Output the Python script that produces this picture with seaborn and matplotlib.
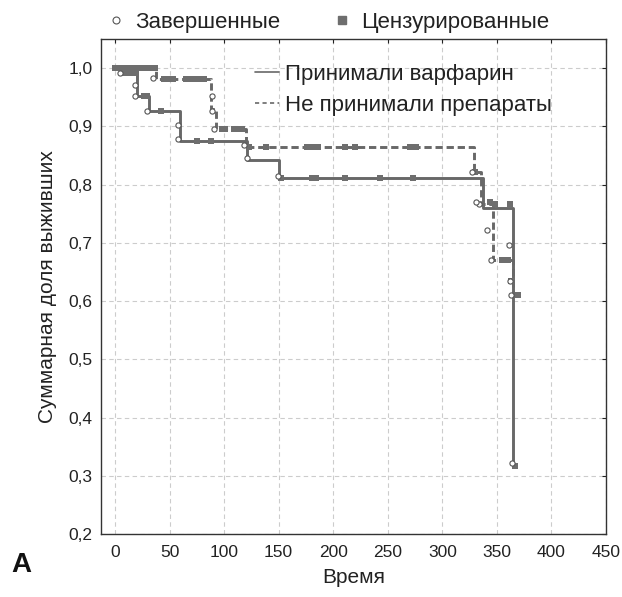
import numpy as np
import pandas as pd
import matplotlib
matplotlib.use("Agg")
import matplotlib.pyplot as plt
from matplotlib.lines import Line2D
import seaborn as sns

# --- Kaplan-Meier steps (time, cumulative survival) ---
warf_t = [0, 6, 20, 31, 60, 121, 150, 337, 365, 367]
warf_s = [1.0, 0.991, 0.952, 0.927, 0.875, 0.843, 0.811, 0.76, 0.32, 0.32]

none_t = [0, 38, 88, 93, 120, 329, 335, 346, 365, 369]
none_s = [1.0, 0.981, 0.93, 0.895, 0.864, 0.822, 0.766, 0.671, 0.61, 0.61]

# completed (events) - open circles
warf_event_t = [5, 18, 18, 29, 58, 58, 121, 149, 334, 361, 362, 363, 364]
warf_event_s = [0.991, 0.971, 0.952, 0.927, 0.902, 0.878, 0.846, 0.815, 0.767, 0.696, 0.634, 0.610, 0.322]
none_event_t = [35, 89, 89, 91, 118, 327, 331, 341, 345]
none_event_s = [0.983, 0.952, 0.927, 0.895, 0.868, 0.822, 0.771, 0.722, 0.671]

# censored - filled squares
warf_cens_t = [0, 2, 4, 8, 10, 12, 14, 16, 19, 27, 29, 42, 75, 88,
               152, 181, 184, 211, 243, 273, 348, 362, 363, 367]
warf_cens_s = [1.0, 1.0, 1.0, 0.991, 0.991, 0.991, 0.991, 0.991, 0.991, 0.952, 0.952, 0.927, 0.875, 0.875,
               0.811, 0.811, 0.811, 0.811, 0.811, 0.811, 0.766, 0.766, 0.634, 0.317]
none_cens_t = [6, 10, 14, 18, 22, 26, 30, 34, 37, 45, 48, 51, 53, 65, 68, 71, 74, 78, 82,
               98, 101, 109, 112, 116, 123, 138, 176, 179, 183, 186, 211, 220, 270, 273, 276,
               330, 344, 355, 360, 369]
none_cens_s = [1.0, 1.0, 1.0, 1.0, 1.0, 1.0, 1.0, 1.0, 1.0, 0.981, 0.981, 0.981, 0.981, 0.981, 0.981,
               0.981, 0.981, 0.981, 0.981, 0.895, 0.895, 0.895, 0.895, 0.895, 0.864, 0.864, 0.864,
               0.864, 0.864, 0.864, 0.864, 0.864, 0.864, 0.864, 0.864, 0.822, 0.77, 0.671, 0.671, 0.61]

x_ticks = [0, 50, 100, 150, 200, 250, 300, 350, 400, 450]
y_ticks = [0.2, 0.3, 0.4, 0.5, 0.6, 0.7, 0.8, 0.9, 1.0]
y_labels = ["0,2", "0,3", "0,4", "0,5", "0,6", "0,7", "0,8", "0,9", "1,0"]

sns.set_theme(style="white")
plt.rcParams["font.family"] = ["Liberation Sans", "DejaVu Sans"]

line_col = "#686868"
mark_col = "#6e6e6e"

fig = plt.figure(figsize=(6.22, 5.97), dpi=100)
ax = fig.add_axes([0.1624, 0.1055, 0.8119, 0.8291])

sns.lineplot(x=warf_t, y=warf_s, drawstyle="steps-post", sort=False, estimator=None,
             color=line_col, linewidth=2.1, ax=ax, zorder=3)
sns.lineplot(x=none_t, y=none_s, drawstyle="steps-post", sort=False, estimator=None,
             color=line_col, linewidth=2.1, linestyle=(0, (2.5, 1.3)), ax=ax, zorder=3)

sns.scatterplot(x=warf_cens_t + none_cens_t, y=warf_cens_s + none_cens_s, marker="s",
                s=16, color=mark_col, linewidth=0, ax=ax, zorder=4)
sns.scatterplot(x=warf_event_t + none_event_t, y=warf_event_s + none_event_s, marker="o",
                s=14, facecolor="white", edgecolor="#555555", linewidth=0.8, ax=ax, zorder=5)

ax.set_xlim(-12.8, 448)
ax.set_ylim(0.2, 1.05)
ax.set_xticks(x_ticks)
ax.set_yticks(y_ticks)
ax.set_yticklabels(y_labels)
ax.grid(True, color="#cccccc", linestyle=(0, (4, 3)), linewidth=0.8)
for sp in ax.spines.values():
    sp.set_color("#333333")
    sp.set_linewidth(1.0)
ax.tick_params(axis="both", which="both", labelsize=12.5, colors="#222222", length=3,
               width=0.8, direction="in", top=True, right=True)
ax.tick_params(axis="x", pad=8)
ax.tick_params(axis="y", pad=6)

ax.set_xlabel("Время", fontsize=15, color="#222222", labelpad=6)
ax.set_ylabel("Суммарная доля выживших", fontsize=15, color="#222222", labelpad=8)

inner = [Line2D([], [], color=line_col, linewidth=1.2),
         Line2D([], [], color=line_col, linewidth=1.2, linestyle=(0, (2.5, 2)))]
ax.legend(inner, ["Принимали варфарин", "Не принимали препараты"], loc="upper left",
          bbox_to_anchor=(0.265, 0.99), frameon=False, fontsize=16, handlelength=1.1,
          handletextpad=0.25, labelspacing=0.45, labelcolor="#222222")

top = [Line2D([], [], marker="o", linestyle="none", markerfacecolor="white",
              markeredgecolor="#555555", markersize=5, markeredgewidth=0.8),
       Line2D([], [], marker="s", linestyle="none", color=mark_col, markersize=6)]
fig.legend(top, ["Завершенные", "Цензурированные"], loc="center left",
           bbox_to_anchor=(0.14, 0.963), ncol=2, frameon=False, fontsize=16,
           handlelength=0.8, handletextpad=0.45, columnspacing=2.4, labelcolor="#222222")

fig.text(0.018, 0.053, "A", fontsize=20, fontweight="bold", color="#111111", va="center")

fig.savefig("out.png", dpi=100)
